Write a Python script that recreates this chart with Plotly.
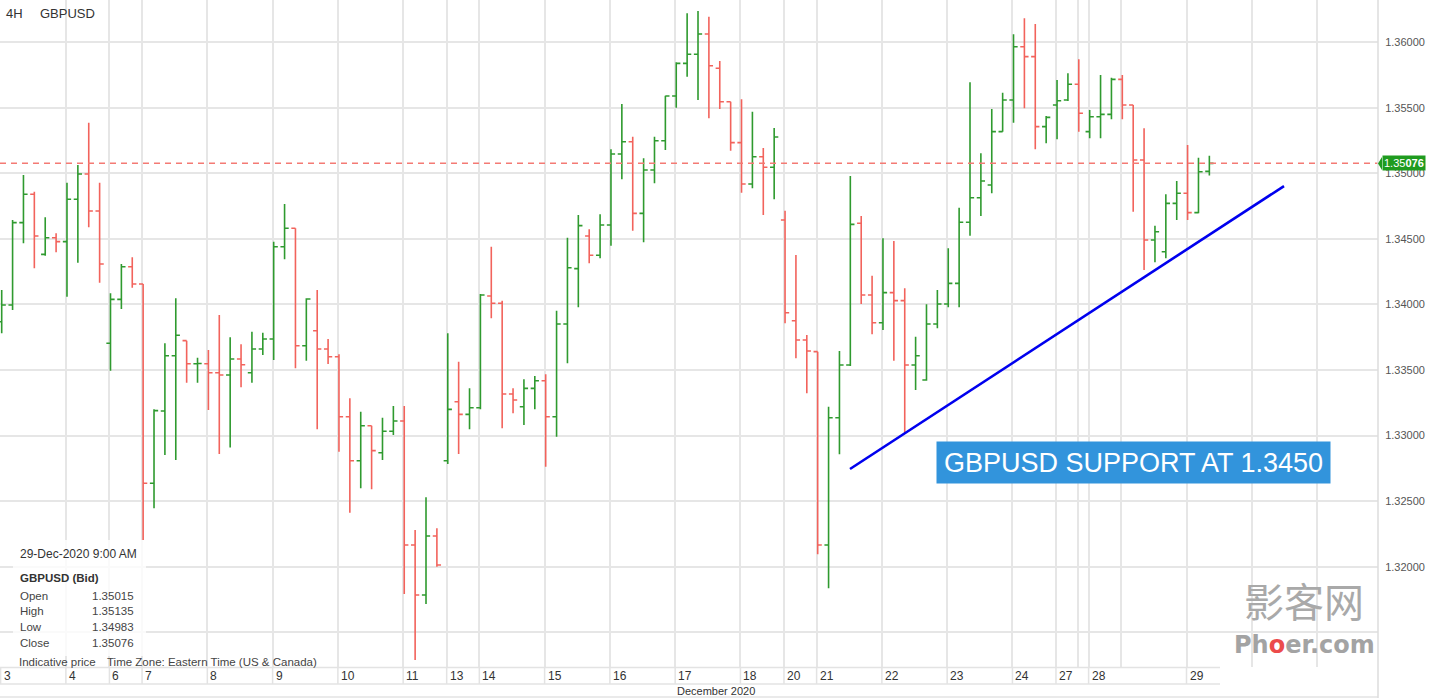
import plotly.graph_objects as go

# ---------------- data ----------------
opens = [1.33868, 1.33996, 1.34624, 1.34840, 1.34382, 1.34509, 1.34479, 1.34802, 1.34995, 1.34713,
         1.33704, 1.34039, 1.34288, 1.34156, 1.32636, 1.33187, 1.33609, 1.33724, 1.33548, 1.33548,
         1.33479, 1.33462, 1.33584, 1.33479, 1.33660, 1.33736, 1.34440, 1.34581, 1.33685, 1.33800,
         1.33660, 1.33601, 1.33144, 1.32808, 1.33075, 1.32869, 1.33033, 1.33111, 1.32165, 1.31784,
         1.32234, 1.32808, 1.33258, 1.33162, 1.33212, 1.34064, 1.34009, 1.33317, 1.33220, 1.33360,
         1.33418, 1.33144, 1.33851, 1.34273, 1.34522, 1.34375, 1.34606, 1.35147, 1.35241, 1.34695,
         1.35025, 1.35249, 1.35590, 1.35839, 1.35908, 1.36063, 1.35801, 1.35546, 1.35234, 1.34919,
         1.35127, 1.35046, 1.34644, 1.33876, 1.33729, 1.33640, 1.32165, 1.33136, 1.33538, 1.34619,
         1.34072, 1.33861, 1.34090, 1.34029, 1.33538, 1.33424, 1.33851, 1.34003, 1.34161, 1.34627,
         1.34814, 1.34911, 1.35318, 1.35559, 1.35966, 1.35890, 1.35356, 1.35521, 1.35559, 1.35679,
         1.35318, 1.35432, 1.35450, 1.35717, 1.35521, 1.35102, 1.34492, 1.34402, 1.34771, 1.34848,
         1.34700, 1.35015]

highs = [1.34110, 1.34644, 1.34987, 1.34860, 1.34665, 1.34543, 1.34929, 1.35064, 1.35386, 1.34929,
         1.34085, 1.34309, 1.34360, 1.34156, 1.33200, 1.33704, 1.34047, 1.33724, 1.33594, 1.33653,
         1.33920, 1.33749, 1.33696, 1.33792, 1.33785, 1.34479, 1.34766, 1.34581, 1.34047, 1.34110,
         1.33736, 1.33620, 1.33284, 1.33182, 1.33075, 1.33136, 1.33225, 1.33225, 1.32280, 1.32529,
         1.32293, 1.33780, 1.33563, 1.33360, 1.34080, 1.34440, 1.34029, 1.33360, 1.33429, 1.33454,
         1.33467, 1.33952, 1.34509, 1.34682, 1.34573, 1.34688, 1.35183, 1.35529, 1.35279, 1.35115,
         1.35279, 1.35592, 1.35847, 1.36221, 1.36238, 1.36195, 1.35857, 1.35546, 1.35565, 1.35470,
         1.35193, 1.35346, 1.34715, 1.34377, 1.33767, 1.33640, 1.33220, 1.33645, 1.34980, 1.34675,
         1.34219, 1.34505, 1.34484, 1.34123, 1.33754, 1.34001, 1.34110, 1.34428, 1.34738, 1.35694,
         1.35153, 1.35491, 1.35615, 1.36060, 1.36182, 1.36139, 1.35437, 1.35712, 1.35763, 1.35870,
         1.35483, 1.35750, 1.35729, 1.35750, 1.35521, 1.35343, 1.34601, 1.34840, 1.34942, 1.35216,
         1.35119, 1.35135]

lows = [1.33780, 1.33958, 1.34466, 1.34276, 1.34372, 1.34398, 1.34059, 1.34318, 1.34588, 1.34166,
        1.33495, 1.33965, 1.34128, 1.32203, 1.32445, 1.32852, 1.32814, 1.33403, 1.33403, 1.33195,
        1.32859, 1.32910, 1.33368, 1.33403, 1.33614, 1.33576, 1.34344, 1.33513, 1.33571, 1.33048,
        1.33546, 1.32877, 1.32412, 1.32598, 1.32590, 1.32814, 1.33004, 1.31792, 1.31288, 1.31715,
        1.32000, 1.32783, 1.32859, 1.33048, 1.33200, 1.33894, 1.33055, 1.33170, 1.33081, 1.33200,
        1.32763, 1.32991, 1.33551, 1.33978, 1.34314, 1.34352, 1.34448, 1.34955, 1.34562, 1.34474,
        1.34924, 1.35178, 1.35501, 1.35737, 1.35559, 1.35420, 1.35491, 1.35173, 1.34852, 1.34886,
        1.34682, 1.34802, 1.33856, 1.33589, 1.33322, 1.32094, 1.31835, 1.32857, 1.33531, 1.34003,
        1.33772, 1.33805, 1.33571, 1.33017, 1.33348, 1.33418, 1.33818, 1.33978, 1.33978, 1.34524,
        1.34675, 1.34848, 1.35318, 1.35386, 1.35496, 1.35183, 1.35229, 1.35260, 1.35552, 1.35318,
        1.35267, 1.35267, 1.35412, 1.35412, 1.34707, 1.34263, 1.34321, 1.34352, 1.34644, 1.34644,
        1.34695, 1.34983]

closes = [1.33996, 1.34624, 1.34840, 1.34522, 1.34509, 1.34479, 1.34802, 1.34995, 1.34713, 1.34309,
          1.34039, 1.34288, 1.34156, 1.32636, 1.33190, 1.33609, 1.33765, 1.33548, 1.33550, 1.33479,
          1.33462, 1.33584, 1.33540, 1.33660, 1.33736, 1.34440, 1.34581, 1.33685, 1.34042, 1.33660,
          1.33601, 1.33144, 1.32808, 1.33075, 1.32885, 1.33033, 1.33111, 1.32165, 1.31784, 1.32234,
          1.32013, 1.33200, 1.33162, 1.33212, 1.34072, 1.34009, 1.33317, 1.33271, 1.33360, 1.33418,
          1.33144, 1.33851, 1.34280, 1.34601, 1.34375, 1.34606, 1.35147, 1.35241, 1.34695, 1.35025,
          1.35249, 1.35590, 1.35839, 1.35908, 1.36063, 1.35821, 1.35546, 1.35234, 1.34919, 1.35127,
          1.35046, 1.35277, 1.33937, 1.33729, 1.33645, 1.32165, 1.33136, 1.33538, 1.34611, 1.34072,
          1.33861, 1.34090, 1.34029, 1.33538, 1.33609, 1.33851, 1.34003, 1.34161, 1.34627, 1.34814,
          1.34942, 1.35318, 1.35559, 1.35966, 1.35890, 1.35356, 1.35427, 1.35554, 1.35679, 1.35458,
          1.35432, 1.35450, 1.35717, 1.35521, 1.35102, 1.34492, 1.34555, 1.34771, 1.34848, 1.34700,
          1.35012, 1.35076]

bar_index = list(range(len(opens)))

day_labels = ["3", "4", "6", "7", "8", "9", "10", "11", "13", "14", "15", "16", "17", "18",
              "20", "21", "22", "23", "24", "27", "28", "29"]
day_first_bar = [0, 6, 10, 13, 19, 25, 31, 37, 41, 44, 50, 56, 62, 68,
                 72, 75, 81, 87, 93, 97, 100, 109]
extra_grid_bar = [99, 103, 115, 121]

price_ticks = [1.315, 1.32, 1.325, 1.33, 1.335, 1.34, 1.345, 1.35, 1.355, 1.36]
price_tick_text = ["", "1.32000", "1.32500", "1.33000", "1.33500", "1.34000",
                   "1.34500", "1.35000", "1.35500", "1.36000"]

last_price = 1.35076
info_rows = [("Open", "1.35015"), ("High", "1.35135"), ("Low", "1.34983"), ("Close", "1.35076")]

support_line_x = [77.97, 117.86]
support_line_y = [1.32745, 1.34903]
support_text = "GBPUSD SUPPORT AT 1.3450"
support_text_x = 104.02
support_text_y = 1.32795

# ---------------- layout helpers ----------------
W, H = 1430, 698
PW, PH = 1378, 667          # plot area in pixels
FONT = "Liberation Sans, Arial, sans-serif"


def px(x):
    return x / PW


def py(y):
    return (PH - y) / PH


grid_x = [i - 0.1 for i in sorted(day_first_bar + extra_grid_bar)]

fig = go.Figure()

fig.add_trace(go.Ohlc(
    x=bar_index, open=opens, high=highs, low=lows, close=closes,
    increasing=dict(line=dict(color="#2f9a2f", width=1.6)),
    decreasing=dict(line=dict(color="#f2635c", width=1.6)),
    tickwidth=0.38, hoverinfo="skip", showlegend=False,
))

fig.add_trace(go.Scatter(
    x=support_line_x, y=support_line_y, mode="lines",
    line=dict(color="#0000ee", width=2.6), hoverinfo="skip", showlegend=False,
))

shapes = []
# current price dashed line
shapes.append(dict(type="line", xref="paper", yref="y", x0=0, x1=1, y0=last_price, y1=last_price,
                   line=dict(color="#f47a74", width=1.5, dash="6px,5px"), layer="above"))
# label row separators (below the plot)
for g in [i - 0.1 for i in day_first_bar]:
    shapes.append(dict(type="line", xref="x", yref="paper", x0=g, x1=g, y0=py(684), y1=0,
                       line=dict(color="#e3e3e3", width=1.5)))
shapes.append(dict(type="line", xref="paper", yref="paper", x0=0, x1=px(1220), y0=py(667.5), y1=py(667.5),
                   line=dict(color="#e3e3e3", width=1.5)))
shapes.append(dict(type="line", xref="paper", yref="paper", x0=0, x1=px(1220), y0=py(684), y1=py(684),
                   line=dict(color="#e3e3e3", width=1.5)))
shapes.append(dict(type="line", xref="paper", yref="paper", x0=0, x1=1, y0=py(697), y1=py(697),
                   line=dict(color="#e3e3e3", width=1.5)))
# right axis line
shapes.append(dict(type="line", xref="paper", yref="paper", x0=1, x1=1, y0=py(698), y1=1,
                   line=dict(color="#dcdcdc", width=1.5)))
# info box
shapes.append(dict(type="rect", xref="paper", yref="paper", x0=px(13), x1=px(146), y0=py(656), y1=py(540),
                   fillcolor="rgba(255,255,255,0.78)", line=dict(width=0), layer="above"))
# price label pointer
shapes.append(dict(type="path", xref="paper", yref="paper",
                   path=f"M {px(1378)} {py(163.5)} L {px(1382)} {py(157)} L {px(1382)} {py(170)} Z",
                   fillcolor="#1f9b1f", line=dict(width=0)))

ann = []
# day labels
for lab, i in zip(day_labels, day_first_bar):
    ann.append(dict(x=i - 0.1, xref="x", y=py(676), yref="paper", text=lab, showarrow=False,
                    xanchor="left", yanchor="middle", xshift=1,
                    font=dict(family=FONT, size=12, color="#333")))
ann.append(dict(x=px(716), xref="paper", y=py(690.5), yref="paper", text="December 2020", showarrow=False,
                xanchor="center", yanchor="middle", font=dict(family=FONT, size=11, color="#333")))
# top-left title
ann.append(dict(x=px(4), xref="paper", y=py(13), yref="paper", text="4H", showarrow=False,
                xanchor="left", yanchor="middle", font=dict(family=FONT, size=13, color="#333")))
ann.append(dict(x=px(38), xref="paper", y=py(13), yref="paper", text="GBPUSD", showarrow=False,
                xanchor="left", yanchor="middle", font=dict(family=FONT, size=13, color="#333")))
# info box texts
ann.append(dict(x=px(18), xref="paper", y=py(554), yref="paper", text="29-Dec-2020 9:00 AM", showarrow=False,
                xanchor="left", yanchor="middle", font=dict(family=FONT, size=12, color="#333")))
ann.append(dict(x=px(18), xref="paper", y=py(577.5), yref="paper", text="<b>GBPUSD (Bid)</b>", showarrow=False,
                xanchor="left", yanchor="middle", font=dict(family=FONT, size=11.5, color="#333")))
for k, (name, val) in enumerate(info_rows):
    yy = py(595.5 + k * 15.9)
    ann.append(dict(x=px(18), xref="paper", y=yy, yref="paper", text=name, showarrow=False,
                    xanchor="left", yanchor="middle", font=dict(family=FONT, size=11.5, color="#444")))
    ann.append(dict(x=px(136), xref="paper", y=yy, yref="paper", text=val, showarrow=False,
                    xanchor="right", yanchor="middle", font=dict(family=FONT, size=11.5, color="#444")))
ann.append(dict(x=px(17), xref="paper", y=py(662), yref="paper", text="Indicative price", showarrow=False,
                xanchor="left", yanchor="middle", font=dict(family=FONT, size=11.5, color="#444")))
ann.append(dict(x=px(105), xref="paper", y=py(662), yref="paper",
                text="Time Zone: Eastern Time (US &amp; Canada)", showarrow=False,
                xanchor="left", yanchor="middle", font=dict(family=FONT, size=11.5, color="#444")))
# last price label
ann.append(dict(x=px(1382), xref="paper", y=last_price, yref="y", text="1.35<b>076</b>", showarrow=False,
                xanchor="left", yanchor="middle", bgcolor="#1f9b1f", borderpad=1,
                font=dict(family=FONT, size=11, color="white")))
# support text box
ann.append(dict(x=support_text_x, xref="x", y=support_text_y, yref="y", text=support_text, showarrow=False,
                xanchor="center", yanchor="middle", bgcolor="#3294dc", width=393, height=41, borderpad=0,
                font=dict(family=FONT, size=27, color="white")))
# watermark
ann.append(dict(x=px(1304), xref="paper", y=py(600), yref="paper", text="影客网", showarrow=False,
                xanchor="center", yanchor="middle",
                font=dict(family="Noto Sans CJK SC", size=40, color="#a9a9a9")))
ann.append(dict(x=px(1304), xref="paper", y=py(645), yref="paper",
                text="<b>Ph<span style='color:#ec4b4b'>o</span>er.com</b>", showarrow=False,
                xanchor="center", yanchor="middle",
                font=dict(family="DejaVu Sans", size=24, color="#a3a3a3")))

fig.update_layout(
    width=W, height=H, autosize=False,
    margin=dict(l=0, r=W - PW, t=0, b=H - PH, pad=0),
    paper_bgcolor="white", plot_bgcolor="white",
    showlegend=False, shapes=shapes, annotations=ann,
    xaxis=dict(range=[-0.156, 126.5], tickvals=grid_x, showticklabels=False, ticks="",
               showgrid=True, gridcolor="#e6e6e6", gridwidth=1.5, zeroline=False,
               showline=False, rangeslider=dict(visible=False), fixedrange=True),
    yaxis=dict(side="right", range=[1.31235, 1.36322], tickvals=price_ticks, ticktext=price_tick_text,
               showgrid=True, gridcolor="#e6e6e6", gridwidth=1.5, zeroline=False,
               ticks="outside", ticklen=4, tickcolor="rgba(0,0,0,0)",
               tickfont=dict(family=FONT, size=11, color="#555"), showline=False, fixedrange=True),
)

fig.write_html("out.html", config={"displayModeBar": False},
               post_script="document.body.style.margin='0';document.body.style.overflow='hidden';")
